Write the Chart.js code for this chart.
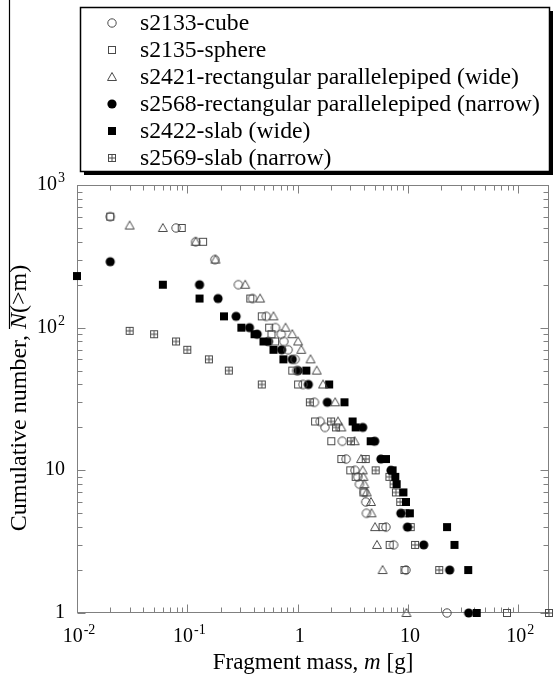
<!DOCTYPE html>
<html><head><meta charset="utf-8">
<script src="https://cdn.jsdelivr.net/npm/chart.js@4.4.1/dist/chart.umd.min.js"></script>
<style>html,body{margin:0;padding:0;background:#fff;}#wrap{width:555px;height:676px;position:relative;}</style>
</head><body><div id="wrap"><canvas id="c" width="555" height="676"></canvas></div>
<script>
// ---- data ----
const seriesLabels = [
  's2133-cube',
  's2135-sphere',
  's2421-rectangular parallelepiped (wide)',
  's2568-rectangular parallelepiped (narrow)',
  's2422-slab (wide)',
  's2569-slab (narrow)'
];
const cubeM = [0.02, 0.079, 0.119, 0.178, 0.29, 0.39, 0.52, 0.63, 0.71, 0.75, 0.82, 0.95, 0.98, 1.12, 1.42, 1.60, 1.77, 2.54, 2.75, 3.31, 3.51, 3.63, 4.03, 4.15, 4.2, 6.32, 7.41, 9.6, 22.6];
const cubeN = [600, 500, 400, 300, 200, 160, 120, 100, 90, 80, 70, 60, 50, 40, 30, 22, 20, 16, 12, 10, 9, 8, 7, 6, 5, 4, 3, 2, 1];
const sphereM = [0.02, 0.089, 0.139, 0.372, 0.473, 0.552, 0.579, 0.625, 0.894, 1.01, 1.44, 2.02, 2.49, 3.0, 3.36, 3.95, 5.89, 6.83, 9.3, 79];
const sphereN = [600, 500, 400, 160, 120, 100, 90, 80, 50, 40, 22, 16, 12, 10, 9, 7, 4, 3, 2, 1];
const rpWideM = [0.030, 0.06, 0.119, 0.18, 0.335, 0.457, 0.604, 0.777, 0.894, 1.01, 1.08, 1.31, 1.49, 1.70, 2.19, 2.32, 2.49, 3.29, 3.76, 3.89, 3.95, 4.03, 4.23, 4.62, 4.68, 5.03, 5.24, 5.89, 9.7];
const rpWideN = [520, 500, 400, 300, 200, 160, 120, 100, 90, 80, 70, 60, 50, 40, 30, 22, 20, 16, 12, 10, 9, 8, 7, 6, 5, 4, 3, 2, 1];
const rpNarrowM = [0.02, 0.129, 0.19, 0.277, 0.366, 0.43, 0.544, 0.717, 0.894, 1.01, 1.25, 1.86, 3.89, 5.0, 5.69, 7.02, 8.62, 9.9, 13.9, 23.9, 35.5];
const rpNarrowN = [290, 200, 160, 120, 100, 90, 80, 70, 60, 50, 40, 30, 20, 16, 12, 10, 5, 4, 3, 2, 1];
const slabWideM = [0.01, 0.06, 0.129, 0.215, 0.309, 0.407, 0.49, 0.604, 0.743, 1.20, 1.93, 2.66, 3.15, 3.36, 4.59, 6.32, 7.26, 7.68, 7.90, 9.1, 9.6, 10.4, 22.6, 26.4, 35.2, 42];
const slabWideN = [230, 200, 160, 120, 100, 90, 80, 70, 60, 50, 40, 30, 22, 20, 16, 12, 10, 9, 8, 7, 6, 5, 4, 3, 2, 1];
const slabNarrowM = [0.03, 0.05, 0.079, 0.1, 0.157, 0.238, 0.473, 1.29, 2.01, 2.23, 3.04, 4.14, 5.10, 6.79, 7.41, 7.78, 8.51, 9.46, 10.6, 11.6, 19.2, 190];
const slabNarrowN = [95, 90, 80, 70, 60, 50, 40, 30, 22, 20, 16, 12, 10, 9, 8, 7, 6, 5, 4, 3, 2, 1];

const xTickValues = [0.01, 0.1, 1, 10, 100];
const xTickLabels = ['10^-2', '10^-1', '1', '10', '10^2'];
const yTickValues = [1, 10, 100, 1000];
const yTickLabels = ['1', '10', '10^2', '10^3'];
const xTitleParts = [['Fragment mass, ', false], ['m', true], [' [g]', false]];
const yTitleParts = [['Cumulative number, ', false], ['N', true], ['(>m)', false]];

// ---- markers ----
const FONT = '"Liberation Serif", "Times New Roman", serif';
const openColor = '#4a4a4a';
function makeMarker(kind) {
  const s = 16, c = document.createElement('canvas');
  c.width = s; c.height = s;
  const g = c.getContext('2d');
  g.lineWidth = 1; g.strokeStyle = openColor; g.fillStyle = '#000';
  if (kind === 'ocircle') { g.beginPath(); g.arc(8, 8, 4.2, 0, 2 * Math.PI); g.stroke(); }
  else if (kind === 'osquare') { g.strokeRect(4.5, 4.5, 7, 7); }
  else if (kind === 'otri') { g.beginPath(); g.moveTo(8, 3.5); g.lineTo(12.5, 11.5); g.lineTo(3.5, 11.5); g.closePath(); g.stroke(); }
  else if (kind === 'fcircle') { g.beginPath(); g.arc(8, 8, 4.6, 0, 2 * Math.PI); g.fill(); }
  else if (kind === 'fsquare') { g.fillRect(4, 4, 8, 8); }
  else if (kind === 'plus') {
    g.strokeRect(4.5, 4.5, 7, 7);
    g.beginPath(); g.moveTo(8, 4.5); g.lineTo(8, 11.5); g.moveTo(4.5, 8); g.lineTo(11.5, 8); g.stroke();
  }
  return c;
}
const markers = ['ocircle', 'osquare', 'otri', 'fcircle', 'fsquare', 'plus'].map(makeMarker);
const seriesM = [cubeM, sphereM, rpWideM, rpNarrowM, slabWideM, slabNarrowM];
const seriesN = [cubeN, sphereN, rpWideN, rpNarrowN, slabWideN, slabNarrowN];

const datasets = seriesLabels.map((lab, i) => ({
  label: lab,
  data: seriesM[i].map((m, j) => ({ x: m, y: seriesN[i][j] })),
  pointStyle: markers[i],
  pointRadius: 5,
  showLine: false,
  clip: false
}));

function drawParts(ctx, parts, size, x, y) {
  let cx = x;
  parts.forEach(([t, it]) => {
    ctx.font = (it ? 'italic ' : '') + size + 'px ' + FONT;
    ctx.fillText(t, cx, y);
    cx += ctx.measureText(t).width;
  });
}
function partsWidth(ctx, parts, size) {
  let w = 0;
  parts.forEach(([t, it]) => { ctx.font = (it ? 'italic ' : '') + size + 'px ' + FONT; w += ctx.measureText(t).width; });
  return w;
}
function supLabel(ctx, label, x, y, align) {
  const [b, s] = label.split('^');
  ctx.font = '20px ' + FONT; const wb = ctx.measureText(b).width;
  let ws = 0;
  if (s) { ctx.font = '14px ' + FONT; ws = ctx.measureText(s).width + 1; }
  const w = wb + ws;
  let sx = align === 'center' ? x - w / 2 : x - w;
  ctx.textAlign = 'left'; ctx.textBaseline = 'alphabetic';
  ctx.font = '20px ' + FONT; ctx.fillText(b, sx, y);
  if (s) { ctx.font = '14px ' + FONT; ctx.fillText(s, sx + wb + 1, y - 8); }
}

const deco = {
  id: 'deco',
  beforeDatasetsDraw(chart) {
    const { ctx, chartArea: a, scales: { x, y } } = chart;
    ctx.save();
    ctx.strokeStyle = '#808080'; ctx.lineWidth = 1;
    const L = Math.round(a.left) + 0.5, R = Math.round(a.right) - 0.5, T = Math.round(a.top) + 0.5, B = Math.round(a.bottom) - 0.5;
    ctx.strokeRect(L, T, R - L, B - T);
    ctx.beginPath();
    for (let e = -2; e <= 2; e++) for (let k = 1; k <= 9; k++) {
      const v = k * Math.pow(10, e);
      if (v < x.min * 0.999 || v > x.max * 1.001) continue;
      const px = Math.round(x.getPixelForValue(v)) + 0.5;
      const len = k === 1 ? 8 : 5;
      ctx.moveTo(px, B); ctx.lineTo(px, B - len);
      ctx.moveTo(px, T); ctx.lineTo(px, T + len);
    }
    for (let e = 0; e <= 2; e++) for (let k = 1; k <= 9; k++) {
      const v = k * Math.pow(10, e);
      if (v < y.min * 0.999 || v > y.max * 1.001) continue;
      const py = Math.round(y.getPixelForValue(v)) + 0.5;
      const len = k === 1 ? 8 : 5;
      ctx.moveTo(L, py); ctx.lineTo(L + len, py);
      ctx.moveTo(R, py); ctx.lineTo(R - len, py);
    }
    ctx.stroke();
    ctx.restore();
  },
  afterDraw(chart) {
    const { ctx, chartArea: a, scales: { x, y } } = chart;
    ctx.save();
    ctx.fillStyle = '#000';
    xTickValues.forEach((v, i) => supLabel(ctx, xTickLabels[i], x.getPixelForValue(v) + 2, 642, 'center'));
    yTickValues.forEach((v, i) => supLabel(ctx, yTickLabels[i], 65, y.getPixelForValue(v) + 5, 'right'));
    // x title
    ctx.textAlign = 'left'; ctx.textBaseline = 'alphabetic';
    const xw = partsWidth(ctx, xTitleParts, 23);
    drawParts(ctx, xTitleParts, 23, (a.left + a.right) / 2 - xw / 2, 669);
    // y title (rotated)
    const ys = 24;
    const yw = partsWidth(ctx, yTitleParts, ys);
    const startY = 398 + yw / 2, bx = 26;
    ctx.save(); ctx.translate(bx, startY); ctx.rotate(-Math.PI / 2);
    drawParts(ctx, yTitleParts, ys, 0, 0);
    ctx.restore();
    const w1 = partsWidth(ctx, [yTitleParts[0]], ys);
    ctx.strokeStyle = '#000'; ctx.lineWidth = 1.2;
    ctx.beginPath(); ctx.moveTo(9.5, 0); ctx.lineTo(9.5, startY - w1); ctx.stroke();
    // legend box
    const bl = 80, bt = 7, br = 549, bb = 171;
    ctx.fillStyle = '#000';
    ctx.fillRect(br, bt + 4, 4, bb - bt);
    ctx.fillRect(bl + 4, bb, br - bl, 4);
    ctx.fillStyle = '#fff'; ctx.fillRect(bl, bt, br - bl, bb - bt);
    ctx.strokeStyle = '#000'; ctx.lineWidth = 1.5;
    ctx.strokeRect(bl + 0.5, bt + 0.5, br - bl, bb - bt);
    ctx.fillStyle = '#000';
    ctx.textBaseline = 'middle'; ctx.textAlign = 'left';
    ctx.font = '23.7px ' + FONT;
    chart.data.datasets.forEach((ds, i) => {
      const ry = 23 + i * 27;
      ctx.drawImage(ds.pointStyle, 112 - 8, Math.round(ry) - 8);
      ctx.fillText(ds.label, 140, ry + 1);
    });
    ctx.restore();
  }
};

new Chart(document.getElementById('c'), {
  type: 'scatter',
  data: { datasets },
  options: {
    responsive: false, animation: false, devicePixelRatio: 1,
    layout: { padding: { left: 77, right: 2, top: 185, bottom: 63 } },
    plugins: { legend: { display: false }, tooltip: { enabled: false } },
    scales: {
      x: { type: 'logarithmic', min: 0.01, max: 190, ticks: { display: false }, grid: { display: false, drawTicks: false }, border: { display: false } },
      y: { type: 'logarithmic', min: 1, max: 1000, ticks: { display: false }, grid: { display: false, drawTicks: false }, border: { display: false } }
    }
  },
  plugins: [deco]
});
</script></body></html>
